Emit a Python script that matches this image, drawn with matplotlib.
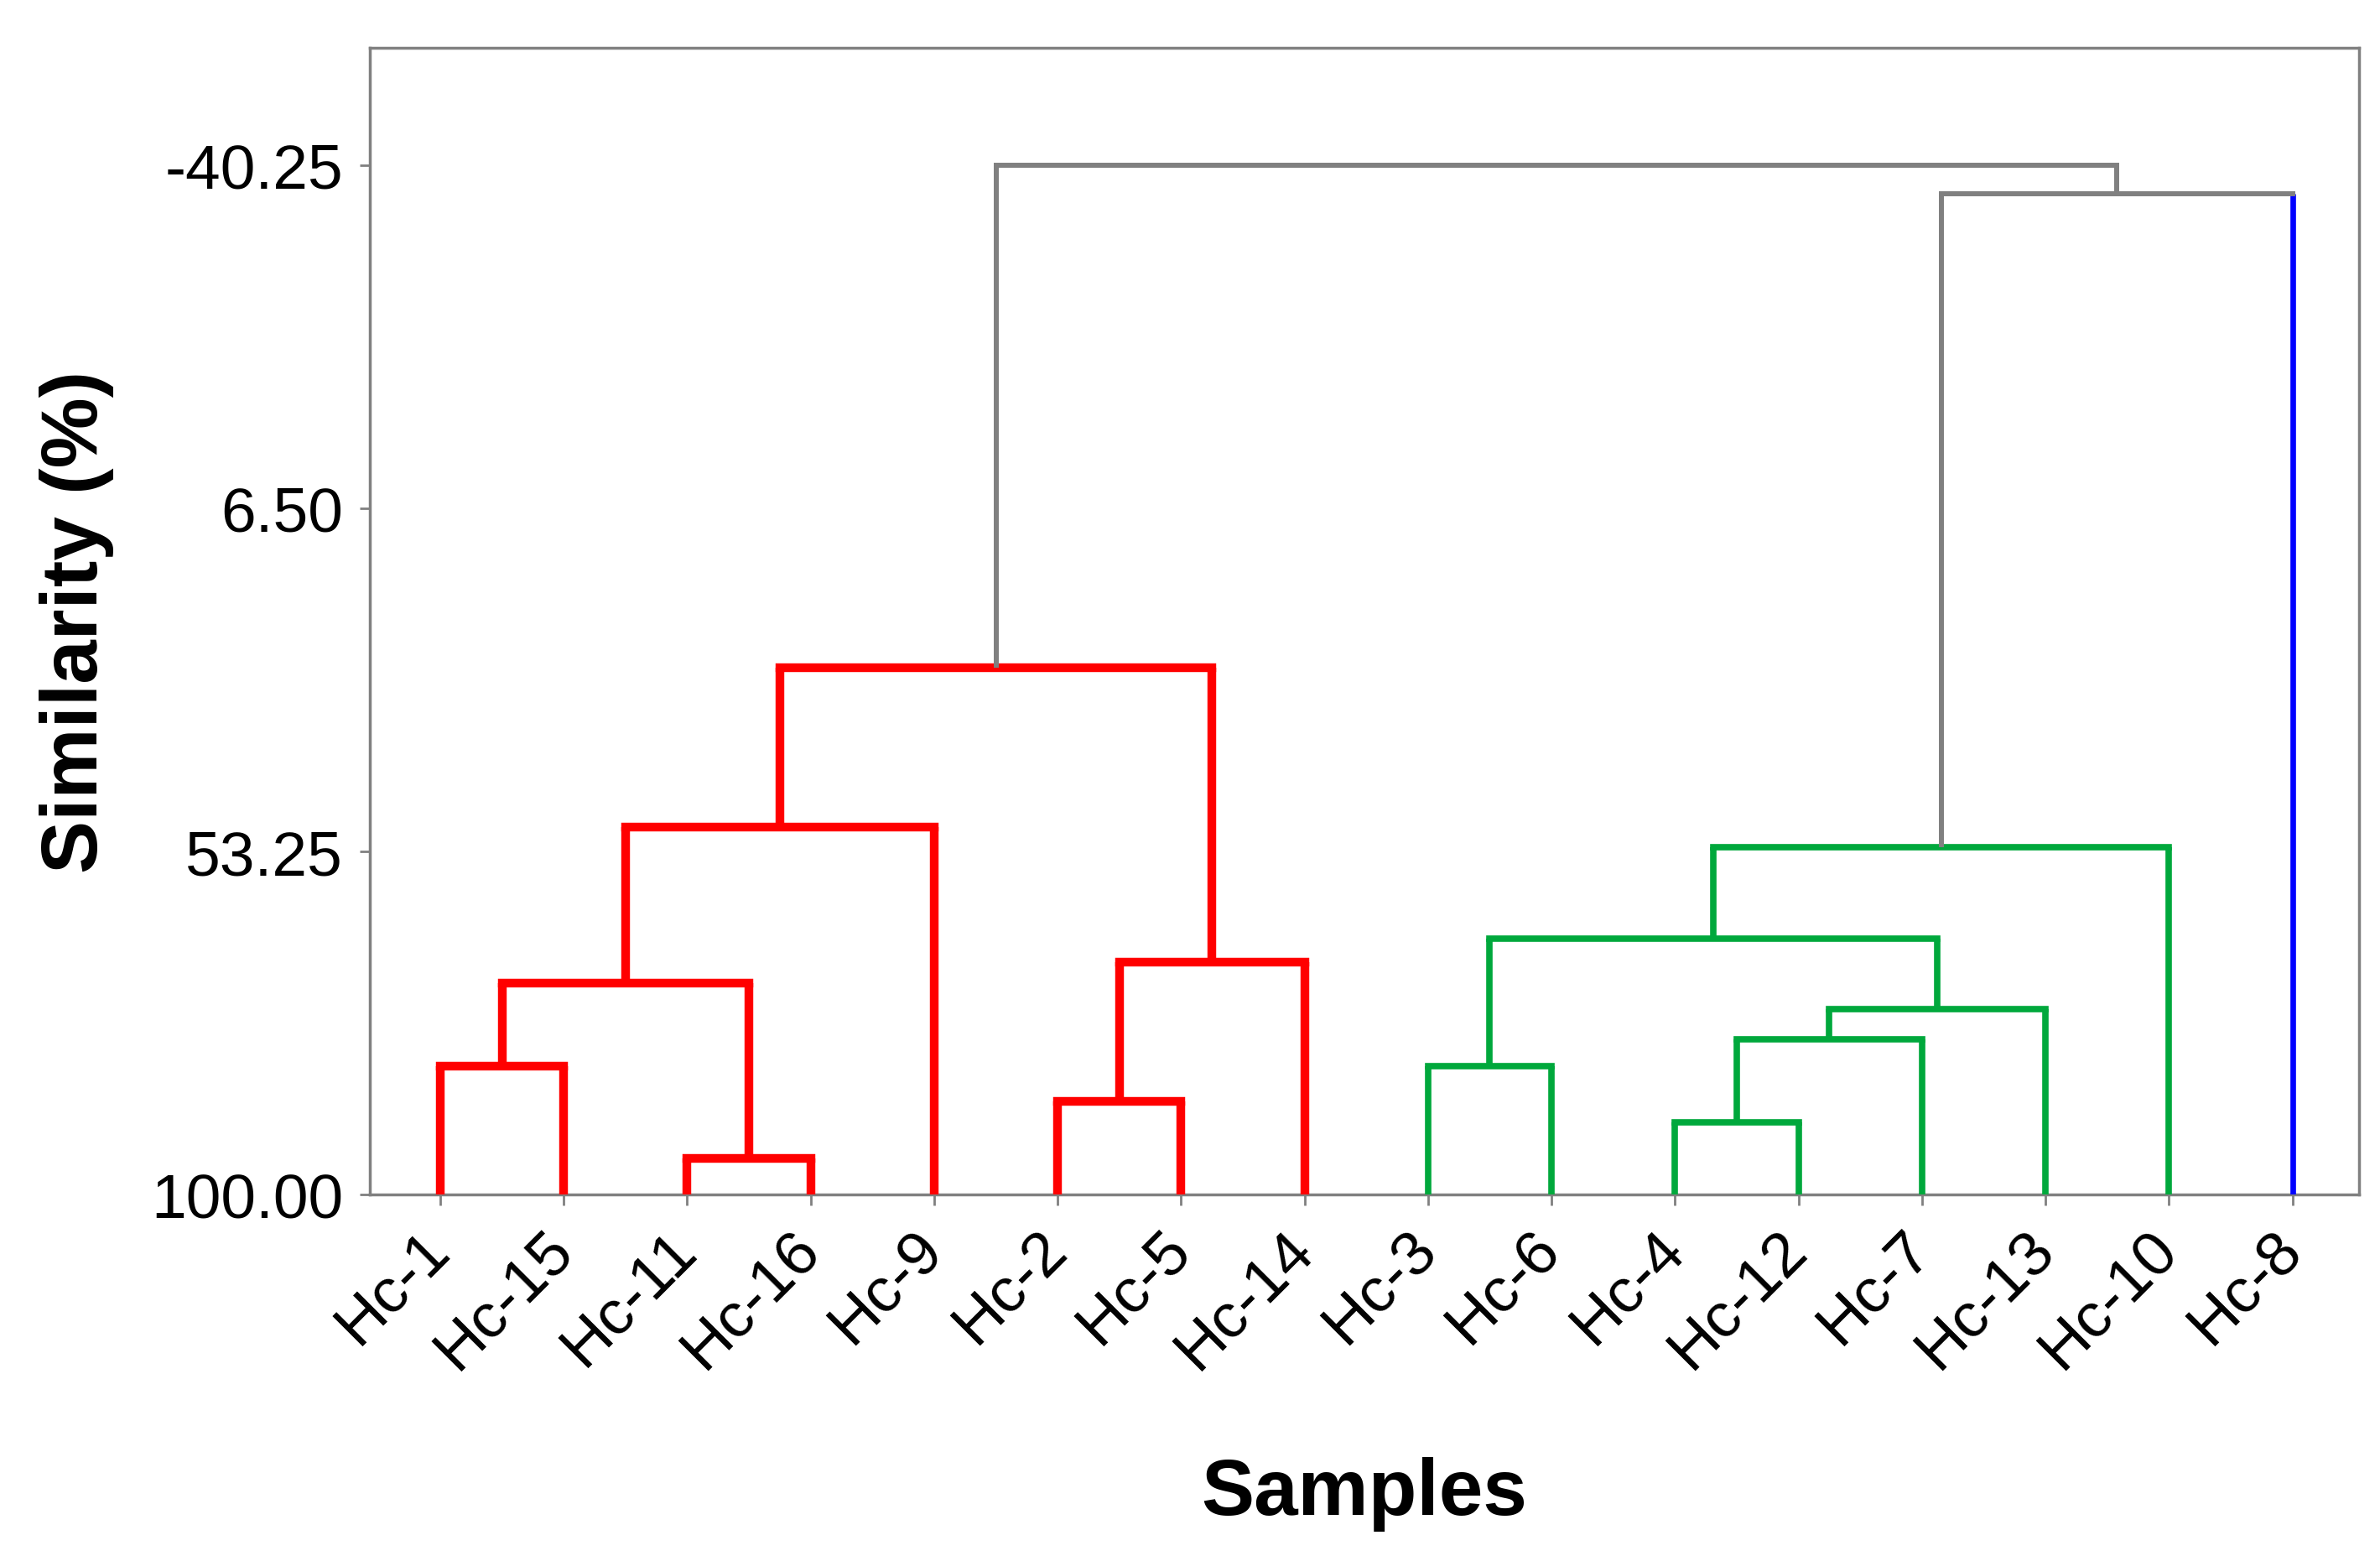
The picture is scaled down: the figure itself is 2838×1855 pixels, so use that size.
import matplotlib
matplotlib.use("Agg")
import matplotlib.pyplot as plt

plt.rcParams['font.family'] = ['Liberation Sans', 'DejaVu Sans']

# ---- data ----
leaves = ["Hc-1", "Hc-15", "Hc-11", "Hc-16", "Hc-9", "Hc-2", "Hc-5", "Hc-14",
          "Hc-3", "Hc-6", "Hc-4", "Hc-12", "Hc-7", "Hc-13", "Hc-10", "Hc-8"]
# merges: (left child, right child, similarity level, colour group)
# children are leaf names or "M<i>" referring to an earlier merge
merge_left = ["Hc-1", "Hc-11", "M0", "M2", "Hc-2", "M4", "M3",
              "Hc-3", "Hc-4", "M8", "M9", "M7", "M11", "M12", "M6"]
merge_right = ["Hc-15", "Hc-16", "M1", "Hc-9", "Hc-5", "Hc-14", "M5",
               "Hc-6", "Hc-12", "Hc-7", "Hc-13", "M10", "Hc-10", "Hc-8", "M13"]
merge_level = [82.5, 95.1, 71.2, 49.9, 87.3, 68.3, 28.2,
               82.5, 90.2, 78.9, 74.7, 65.1, 52.7, -36.4, -40.25]
merge_group = ["red", "red", "red", "red", "red", "red", "red",
               "green", "green", "green", "green", "green", "green", "gray", "gray"]
yticks = [-40.25, 6.50, 53.25, 100.00]
ytick_labels = ["-40.25", "6.50", "53.25", "100.00"]

colors = {"red": "#FF0000", "green": "#00A83C", "gray": "#808080", "blue": "#0000FF"}
widths = {"red": 7.5, "green": 5.5, "gray": 4.3, "blue": 4.8}
leaf_color = {"Hc-8": "blue"}

fig = plt.figure(figsize=(28.38, 18.56), dpi=100)
ax = fig.add_axes([0.1554, 0.2322, 0.9912 - 0.1554, 0.969 - 0.2322])

xpos = {name: i + 1 for i, name in enumerate(leaves)}
ypos = {name: 100.0 for name in leaves}

def child_color(name, parent_group):
    if name in leaf_color:
        return leaf_color[name]
    return parent_group

for i, (l, r, h, g) in enumerate(zip(merge_left, merge_right, merge_level, merge_group)):
    xl, xr = xpos[l], xpos[r]
    cl = child_color(l, g)
    cr = child_color(r, g)
    # vertical legs
    ax.plot([xl, xl], [ypos[l], h], color=colors[cl], lw=widths[cl], solid_capstyle='butt', zorder=3)
    ax.plot([xr, xr], [ypos[r], h], color=colors[cr], lw=widths[cr], solid_capstyle='butt', zorder=3)
    # horizontal bar
    ax.plot([xl, xr], [h, h], color=colors[g], lw=widths[g], solid_capstyle='projecting', zorder=3)
    name = "M%d" % i
    xpos[name] = (xl + xr) / 2.0
    ypos[name] = h

ax.set_xlim(0.43, 16.54)
ax.set_ylim(100.0, -56.3)

ax.set_xticks(range(1, len(leaves) + 1))
ax.set_xticklabels(leaves, rotation=45, ha='right', va='center', rotation_mode='anchor', fontsize=54)
ax.set_yticks(yticks)
ax.set_yticklabels(ytick_labels, fontsize=54)
ax.tick_params(axis='both', direction='out', length=9, width=2, color='#808080', pad=14)
ax.tick_params(axis='x', pad=30)

for s in ax.spines.values():
    s.set_color('#808080')
    s.set_linewidth(2.5)

ax.set_ylabel("Similarity (%)", fontsize=68, fontweight='bold', labelpad=32)
ax.set_xlabel("Samples", fontsize=68, fontweight='bold', labelpad=66)

fig.savefig("out.png", dpi=100, facecolor='white')
